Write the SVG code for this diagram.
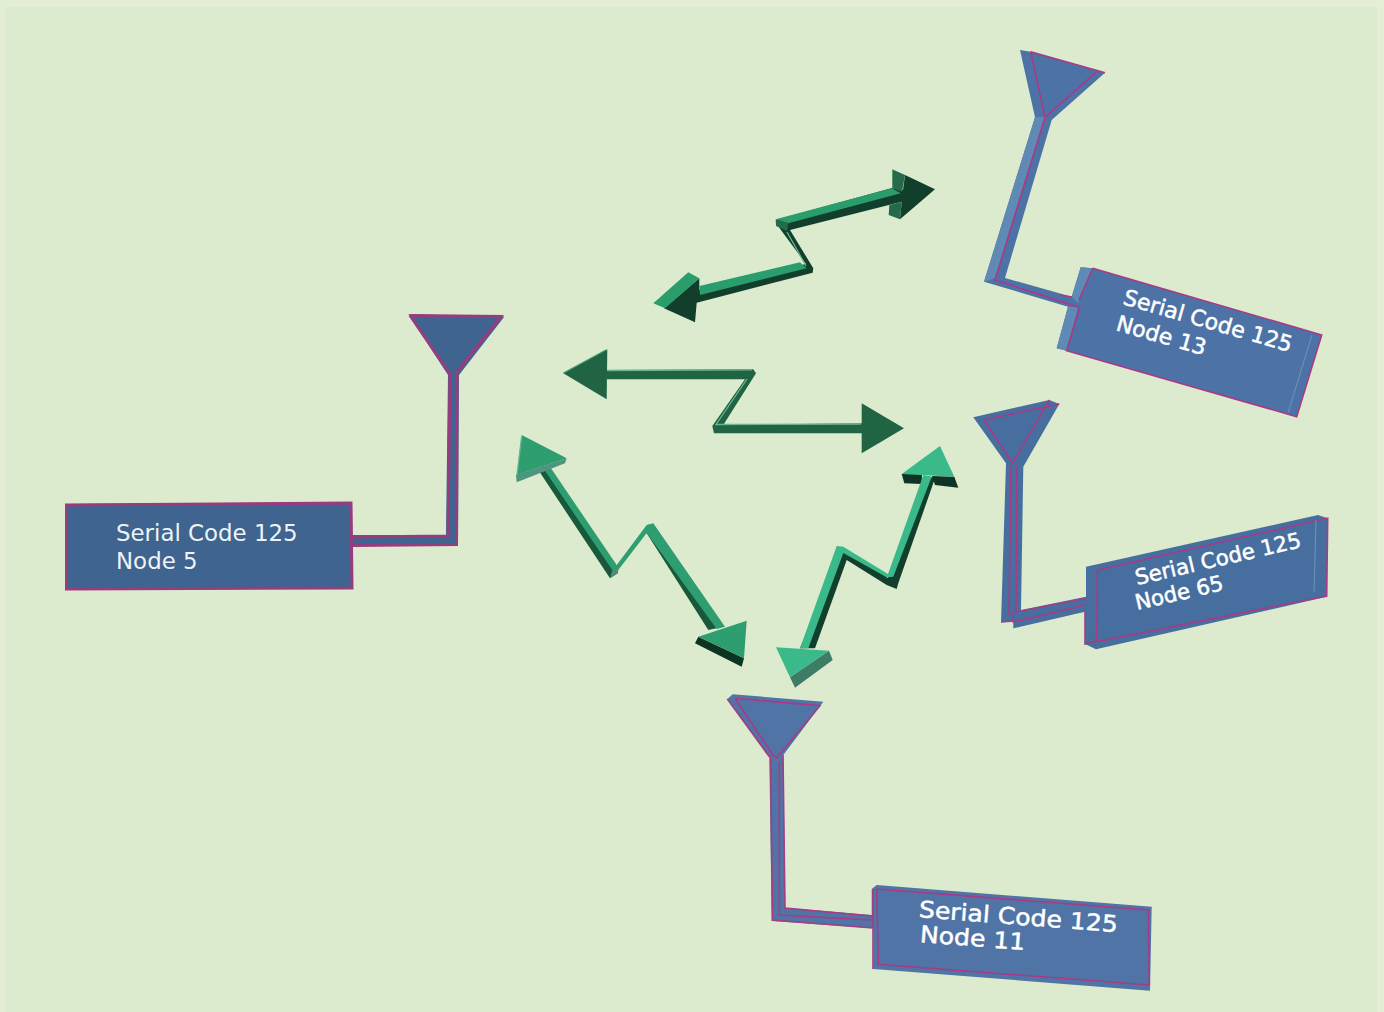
<svg xmlns="http://www.w3.org/2000/svg" width="1384" height="1012" viewBox="0 0 1384 1012">
<style>
.ln{fill:none;stroke:#a83a86;stroke-width:1.6;stroke-linejoin:miter}
.ln5{fill:none;stroke:#983c80;stroke-width:3}
.t{font-family:"DejaVu Sans",sans-serif;font-size:22.9px;fill:#eef3f8}
.b{stroke:#fff;stroke-width:.5;fill:#fff}
.hl{fill:none;stroke:#6db592;stroke-width:1.3}
</style>
<rect width="1384" height="1012" fill="#e3eed5"/>
<rect x="5" y="7" width="1372" height="1005" fill="#dcebcd"/>

<g id="connectors">
<g id="link-top">
<polygon fill="#123f2c" points="905,175 935,189.3 900,219.3 901.7,201.7 790,230 813.3,268.3 812.7,272.7 696.7,302.7 695,322.3 664,308.3 699.3,278.3 699.3,290 806,264 778,226 776,220 892,188 903,190"/>
<polygon fill="#256b4b" points="892.3,169.3 905,175 902,192 892.3,188"/>
<polygon fill="#256b4b" points="889.3,205 901.7,201.7 900,219.3 888.7,215"/>
<polygon fill="#2a9d6d" points="775.7,219.3 891.7,188.3 900.7,193.3 788.3,223.3"/>
<polygon fill="#256b4b" points="775.7,219.3 788.3,223.3 787,231 776,226"/>
<polygon fill="#2a9d6d" points="699.3,286 800,262.3 806.7,268.3 700,295"/>
<polyline class="hl" points="787,232 806,266"/>
<polygon fill="#2a9d6d" points="688.3,272.3 699.3,278.3 665,308.3 653.3,303.3"/>
</g>
<g id="link-middle">
<polygon fill="#216443" points="563.3,373.3 607.3,349.3 606.7,399.3"/>
<polygon fill="#216443" points="861.7,403.3 904,428.3 861.7,453.3"/>
<polygon fill="#216443" points="607,370 753.3,369.3 756,373.3 723.3,425 862,423.3 862,433.3 714,433.3 712.3,426 745,379.3 607,379.3"/>
<polyline class="hl" points="607,370.5 752,369.8"/>
<polyline class="hl" points="747,379 716,424.5 861,424"/>
<polyline fill="none" stroke="#3d9a70" stroke-width="1.2" points="563.5,373 606,350"/>
</g>
<g id="link-left">
<polygon fill="#17593a" points="538.3,470 543.3,466 618,570 618,573 610,578.3"/>
<polygon fill="#17593a" points="646.7,533.3 649,524 722,627 708.3,630"/>
<polygon fill="#4f8a78" points="610,578.3 612.3,570 618.3,570 618,573"/>
<polygon fill="#2e9e70" points="548.3,464.3 616.7,565 646.7,525 653.3,523.3 725,626.7 716.7,629 646.7,533 618.3,570 612.3,570 543.3,468.3"/>
<polygon fill="#4f9480" points="566.7,458.3 565,463.3 516.7,482.3 516,475"/>
<polygon fill="#2e9e70" points="521.7,435 566.7,458.3 516.7,475"/>
<polyline class="hl" points="521.7,436 517,475"/>
<polygon fill="#0d3321" points="698.3,636.7 744,658.3 741.7,666.7 695,643.3"/>
<polygon fill="#2e9e70" points="698.3,636.7 746.7,620.7 744,658.3"/>
</g>
<g id="link-right">
<polygon fill="#123f2c" points="928,476 935,478.3 898.3,583.3 896.7,589 886.7,585 846.7,560 815,648.3 800,648.3 842,548 888,578"/>
<polygon fill="#0f3324" points="901.7,474 922,474 921.7,484 904.3,483.3"/>
<polygon fill="#0f3324" points="932,476 954.3,476.7 958.3,487.7 935,485"/>
<polygon fill="#3aba8a" points="923.3,475 931.7,476.7 893.3,576.7 886.7,577.3 843.3,553 808.3,648.3 800,648.3 836.7,546 843.3,546.7 888,574"/>
<polygon fill="#3aba8a" points="940,446 954.3,476.7 901.7,474"/>
<polygon fill="#3f7c66" points="829,650.7 832.7,660 795,687.7 790,677.3"/>
<polygon fill="#3aba8a" points="776,647.3 829,650.7 790,677.3"/>
</g>
</g>

<g id="node-5">
<path fill="#3e648f" d="M408.3,314.3 L504.3,316.7 L459,375 L458,545 L352,546 L353,505 L352,588.5 L65,590 L66,504 L351,502 L352,535 L446,535 L448,375 Z"/>
<path class="ln5" d="M410,315.5 L501,316.5 L457,372 L456.5,544.5 L353,545.5 M410,315.5 L450,374 L448,536 L353,537 M66.5,505 L351,503 L352,588 L66.5,589 Z"/>
<text class="t" x="116" y="541">Serial Code 125</text>
<text class="t" x="116" y="569">Node 5</text>
</g>

<g id="node-13">
<path fill="#4d73a6" d="M1020,50 L1030.7,51.7 L1105,72.7 L1051.7,120 L1005,278 L1071.7,296.7 L1080.7,267.3 L1092.7,268.3 L1321.7,335 L1296.7,416.7 L1066.7,350.7 L1056.7,348.3 L1068,306.7 L984,281.7 L1035,117.3 Z"/>
<path fill="#5f8ab5" d="M1035,117.3 L1045,117.3 L995,278 L984,281.7 Z M1080.7,267.3 L1092.7,268.3 L1078,303 L1071.7,296.7 Z M1068,306.7 L1078,307 L1066.7,350.7 L1056.7,348.3 Z"/>
<path class="ln" d="M1030.7,51.7 L1105,72.7 M1096.7,71.7 L1045,117.3 L1030.7,51.7 M1045,117.3 L995,280 L1078,307 M1060,295 L1072,297 M1092.7,268.3 L1321.7,335 L1296.7,416.7 L1066.7,350.7 L1080,306 M1092.7,268.3 L1079,300"/>
<path fill="none" stroke="#6f93bd" stroke-width="1" d="M1312,335 L1288,413"/>
<text class="t b" style="font-size:22px" transform="translate(1122,304) rotate(16)">Serial Code 125</text>
<text class="t b" style="font-size:22px" transform="translate(1115,330) rotate(16)">Node 13</text>
</g>

<g id="node-65">
<path fill="#466f9f" d="M973.3,417.3 L1049.3,400 L1059.3,404 L1023.3,466.7 L1021,610 L1086,596.7 L1086,566.7 L1318,515 L1327.7,518.3 L1326.7,596.7 L1096,649.3 L1085,644 L1085,611.7 L1013.3,628.3 L1013.3,621.7 L1001,622.3 L1006,463.3 Z"/>
<path class="ln" d="M984,420 L1059.3,404 M1049.3,400 L1012.7,463.3 L984,420 M1017,465 L1016,612 L1086,598.3 M1013.3,611 L1013.3,622 L1085,605 M1011,466 L1009,615 M1001,622 L1013,621 M1097.3,570 L1327.7,518.3 L1326.7,596 L1096.7,641.7 Z M1085,612 L1085,644 L1096,641"/>
<path fill="none" stroke="#6f93bd" stroke-width="1" d="M1316,520 L1314,592"/>
<text class="t b" style="font-size:21.4px" transform="translate(1137,585) rotate(-13)">Serial Code 125</text>
<text class="t b" style="font-size:21.4px" transform="translate(1137,610) rotate(-13)">Node 65</text>
</g>

<g id="node-11">
<path fill="#5074a5" d="M727.3,699 L732.7,694.3 L823.3,701.7 L783.3,755 L785,907.7 L871.7,915 L871.7,889 L876.7,885 L1151.7,906.7 L1150,990.7 L873.3,969 L873.3,928.3 L771.7,921 L769.3,756.7 Z"/>
<path class="ln" d="M735,698.3 L820,705.7 L776.7,758 L773,755 L735,698.3 M727.3,699 L769.3,756.7 M779.3,762 L779.3,915 L871.7,920 M770.5,756 L772.5,920 L873,928 M783,755 L785,908 L872,916 M876.7,889 L1148.3,910 L1149.3,985 L878.3,964.3 L876.7,889 M873,889 L873,969"/>
<text class="t b" transform="translate(918.5,917) rotate(4.4) scale(1.097,1)">Serial Code 125</text>
<text class="t b" transform="translate(919.5,942) rotate(4.4) scale(1.097,1)">Node 11</text>
</g>
</svg>
